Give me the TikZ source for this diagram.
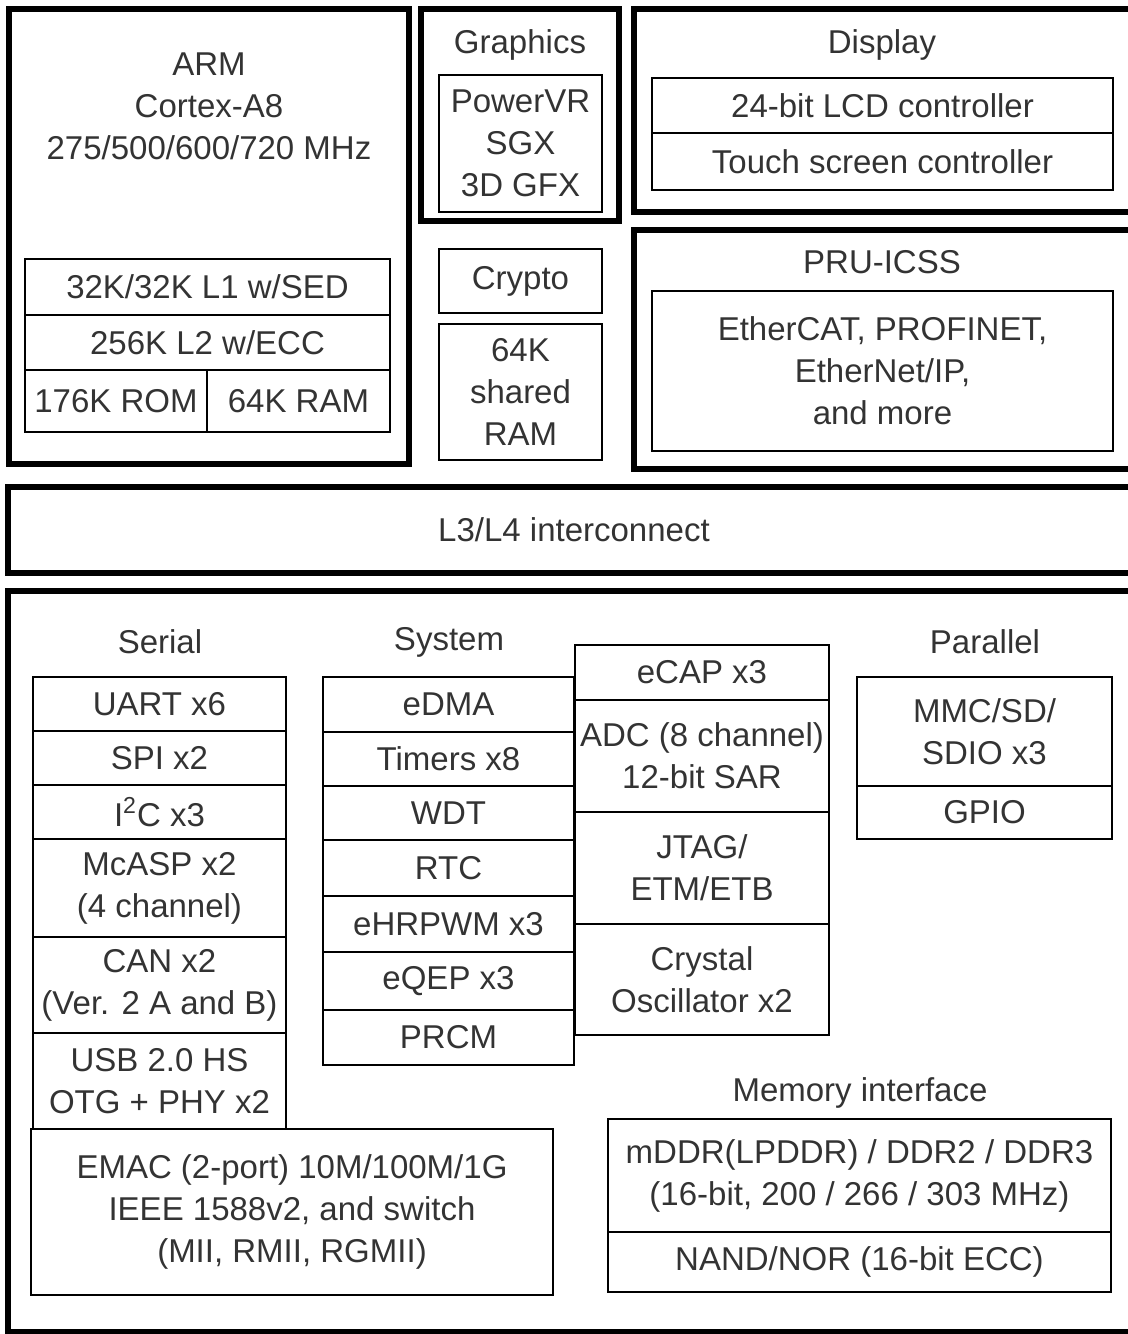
\documentclass[tikz,border=0pt]{standalone}
\usepackage{fontspec}
\setmainfont{Liberation Sans}
\usepackage{xcolor}
\usepackage{tikz}
\usetikzlibrary{positioning}

\tikzset{
    txt/.style={text=black!80, align=center, inner sep=0pt, font=\fontsize{16.5}{21}\selectfont},
    cell/.style 2 args={txt, draw=black, line width=1.3pt, minimum width=#1*0.5pt, minimum height=#2*0.5pt},
    block/.style 2 args={draw=black, line width=3.2pt, minimum width=#1*0.5pt, minimum height=#2*0.5pt, inner sep=0pt}
}

\begin{document}
\begin{tikzpicture}[x=0.5pt, y=-0.5pt]
        \useasboundingbox (0,0) rectangle (1128,1334);
        \clip (0,0) rectangle (1128,1334);

        % Bloco ARM
        \node[block={400}{455}] (arm) at (209,236.5) {};
        \node[txt] (armt) at (209,106) {ARM\\Cortex-A8\\275/500/600/720 MHz};
        \node[cell={365}{56}] (l1) at (207.5,287) {32K/32K L1 w/SED};
        \node[cell={365}{55}] (l2) at (207.5,342.5) {256K L2 w/ECC};
        \node[cell={182}{62}] (rom) at (116,401) {176K ROM};
        \node[cell={183}{62}] (ram) at (298.5,401) {64K RAM};

        % Graphics, Crypto, RAM
        \node[block={198}{212}] (gfx) at (520,115) {};
        \node[txt] (gfxt) at (520,45) {Graphics};
        \node[cell={163}{137}] (pvr) at (520.5,143.5) {PowerVR\\SGX\\3D GFX};
        \node[cell={163}{64}] (crypto) at (520.5,281) {Crypto};
        \node[cell={163}{136}] (sram) at (520.5,392) {64K\\shared\\RAM};

        % Display e PRU-ICSS
        \node[block={506}{203}] (disp) at (887,110.5) {};
        \node[txt] (dispt) at (882,45) {Display};
        \node[cell={461}{55}] (lcd) at (882.5,105.5) {24-bit LCD controller};
        \node[cell={461}{57}] (touch) at (882.5,161.5) {Touch screen controller};
        \node[block={506}{239}] (pru) at (887,349.5) {};
        \node[txt] (prut) at (882,262) {PRU-ICSS};
        \node[cell={461}{160}] (eth) at (882.5,371) {EtherCAT, PROFINET,\\EtherNet/IP,\\and more};

        % Interconnect
        \node[block={1132}{86}, txt] (l3) at (574,530) {L3/L4 interconnect};

        % Perifericos
        \node[block={1132}{741}] (soc) at (574,961.5) {};

        \node[txt] (serial) at (160,642) {Serial};
        \node[cell={253}{54}] (uart) at (159.5,704) {UART x6};
        \node[cell={253}{54}] (spi) at (159.5,758) {SPI x2};
        \node[cell={253}{54}] (i2c) at (159.5,812) {I\textsuperscript{2}C x3};
        \node[cell={253}{98}] (mcasp) at (159.5,888) {McASP x2\\(4 channel)};
        \node[cell={253}{96}] (can) at (159.5,985) {CAN x2\\(Ver. 2 A and B)};
        \node[cell={253}{96}] (usb) at (159.5,1081) {USB 2.0 HS\\OTG + PHY x2};
        \node[cell={522}{166}] (emac) at (292,1212) {EMAC (2-port) 10M/100M/1G\\IEEE 1588v2, and switch\\(MII, RMII, RGMII)};

        \node[txt] (system) at (449,642) {System};
        \node[cell={251}{55}] (edma) at (448.5,704.5) {eDMA};
        \node[cell={251}{54}] (timers) at (448.5,759) {Timers x8};
        \node[cell={251}{54}] (wdt) at (448.5,813) {WDT};
        \node[cell={251}{56}] (rtc) at (448.5,868) {RTC};
        \node[cell={251}{56}] (pwm) at (448.5,924) {eHRPWM x3};
        \node[cell={251}{58}] (qep) at (448.5,981) {eQEP x3};
        \node[cell={251}{55}] (prcm) at (448.5,1037.5) {PRCM};

        \node[cell={254}{55}] (ecap) at (702,672.5) {eCAP x3};
        \node[cell={254}{112}] (adc) at (702,756) {ADC (8 channel)\\12-bit SAR};
        \node[cell={254}{112}] (jtag) at (702,868) {JTAG/\\ETM/ETB};
        \node[cell={254}{111}] (xtal) at (702,979.5) {Crystal\\Oscillator x2};

        \node[txt] (parallel) at (985,642) {Parallel};
        \node[cell={255}{109}] (mmc) at (984.5,731.5) {MMC/SD/\\SDIO x3};
        \node[cell={255}{53}] (gpio) at (984.5,812.5) {GPIO};

        \node[txt] (memt) at (860,1093) {Memory interface};
        \node[cell={503}{113}] (ddr) at (859.5,1175.5) {mDDR(LPDDR) / DDR2 / DDR3\\(16-bit, 200 / 266 / 303 MHz)};
        \node[cell={503}{60}] (nand) at (859.5,1262) {NAND/NOR (16-bit ECC)};
    \end{tikzpicture}
\end{document}
